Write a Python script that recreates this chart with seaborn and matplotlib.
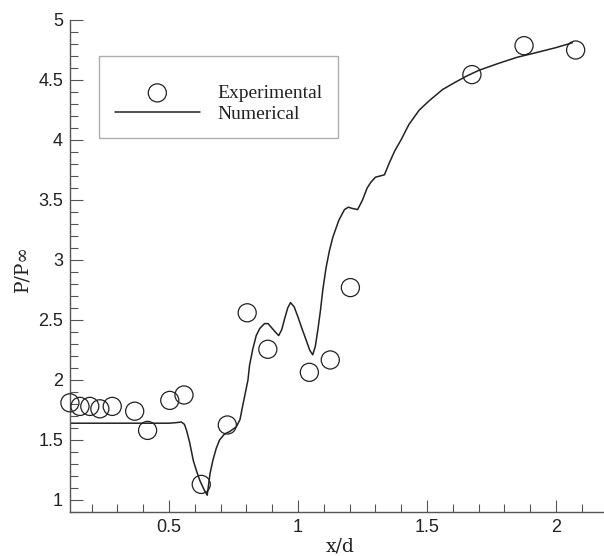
"""Surface pressure ratio along x/d: experiment vs. numerical solution"""

import numpy as np
import pandas as pd
import matplotlib
matplotlib.use('Agg')
import matplotlib.pyplot as plt
from matplotlib.ticker import MultipleLocator, FormatStrFormatter
import seaborn as sns

# Experimental points (circles)
exp_x = [0.116, 0.155, 0.193, 0.232, 0.280, 0.367, 0.417, 0.503, 0.558,
         0.625, 0.726, 0.803, 0.883, 1.044, 1.125, 1.203, 1.674, 1.876, 2.076]
exp_y = [1.81, 1.78, 1.78, 1.76, 1.78, 1.74, 1.58, 1.83, 1.875,
         1.13, 1.625, 2.56, 2.256, 2.064, 2.167, 2.77, 4.545, 4.786, 4.75]

# Numerical solution (solid line)
num_x = [0.116, 0.30, 0.50, 0.530, 0.548, 0.560, 0.568, 0.580, 0.594, 0.607,
         0.620, 0.635, 0.648, 0.659, 0.670, 0.683, 0.696, 0.715, 0.735, 0.761,
         0.775, 0.787, 0.806, 0.812, 0.825, 0.838, 0.852, 0.870, 0.884, 0.896,
         0.912, 0.925, 0.937, 0.948, 0.960, 0.971, 0.985, 0.999, 1.015, 1.032,
         1.045, 1.057, 1.067, 1.077, 1.087, 1.096, 1.109, 1.122, 1.135, 1.158,
         1.180, 1.195, 1.210, 1.231, 1.250, 1.268, 1.283, 1.300, 1.318, 1.335,
         1.354, 1.375, 1.399, 1.430, 1.470, 1.510, 1.560, 1.600, 1.651, 1.700,
         1.779, 1.850, 1.908, 2.000, 2.063]
num_y = [1.64, 1.64, 1.64, 1.645, 1.65, 1.63, 1.58, 1.48, 1.33, 1.24,
         1.16, 1.09, 1.04, 1.22, 1.33, 1.43, 1.50, 1.55, 1.57, 1.61,
         1.67, 1.80, 2.00, 2.12, 2.26, 2.37, 2.43, 2.47, 2.47, 2.44,
         2.40, 2.37, 2.42, 2.51, 2.60, 2.645, 2.61, 2.53, 2.43, 2.33,
         2.25, 2.21, 2.28, 2.42, 2.58, 2.75, 2.94, 3.08, 3.19, 3.33,
         3.42, 3.44, 3.43, 3.42, 3.50, 3.60, 3.65, 3.69, 3.70, 3.71,
         3.81, 3.91, 4.00, 4.13, 4.25, 4.33, 4.42, 4.47, 4.53, 4.58,
         4.64, 4.69, 4.72, 4.77, 4.81]

exp_df = pd.DataFrame({'x': exp_x, 'y': exp_y})
num_df = pd.DataFrame({'x': num_x, 'y': num_y})

sns.set_style('ticks')
plt.rcParams['font.family'] = ['Liberation Sans', 'DejaVu Sans']
serif = ['Liberation Serif', 'DejaVu Serif']
label_serif = ['DejaVu Serif']
ink = '#222222'
axis_gray = '#555555'

fig = plt.figure(figsize=(6.04, 5.56), dpi=100)
ax = fig.add_axes([70 / 604, 44 / 556, 533 / 604, 492 / 556])

sns.scatterplot(data=exp_df, x='x', y='y', ax=ax, marker='o', s=170,
                color=ink, facecolors='none', edgecolor=ink, linewidth=0.9,
                label='Experimental', zorder=3, clip_on=False)
sns.lineplot(data=num_df, x='x', y='y', ax=ax, color=ink, linewidth=1.1,
             estimator=None, sort=False, label='Numerical')

ax.set_xlim(0.1163, 2.182)
ax.set_ylim(0.9, 5.0)

ax.xaxis.set_major_locator(MultipleLocator(0.5))
ax.xaxis.set_minor_locator(MultipleLocator(0.1))
ax.yaxis.set_major_locator(MultipleLocator(0.5))
ax.yaxis.set_minor_locator(MultipleLocator(0.1))
ax.xaxis.set_major_formatter(FormatStrFormatter('%g'))
ax.yaxis.set_major_formatter(FormatStrFormatter('%g'))

ax.tick_params(which='both', direction='in', color=axis_gray, width=0.8,
               labelsize=13, labelcolor=ink, top=False, right=False)
ax.tick_params(which='major', length=9, pad=5)
ax.tick_params(which='minor', length=5.5)

sns.despine(ax=ax)
for side in ['left', 'bottom']:
    ax.spines[side].set_color(axis_gray)
    ax.spines[side].set_linewidth(1.0)

ax.set_xlabel('x/d', family=label_serif, fontsize=13.5, color=ink)
ax.set_ylabel('P/P\u221e', family=label_serif, fontsize=13.5, color=ink)
ax.xaxis.set_label_coords(0.507, -0.052)
ax.yaxis.set_label_coords(-0.072, 0.494)

leg = ax.legend(loc='upper left', bbox_to_anchor=(0.0544, 0.927),
                borderaxespad=0, frameon=True, fancybox=False,
                prop={'family': serif, 'size': 14}, handlelength=4.4,
                handletextpad=0.9, labelspacing=0.15, borderpad=0.8,
                title=' ', title_fontsize=7)
leg.get_frame().set_edgecolor('#999999')
leg.get_frame().set_linewidth(1.0)
for t in leg.get_texts():
    t.set_color(ink)

fig.savefig('out.png', dpi=100)
